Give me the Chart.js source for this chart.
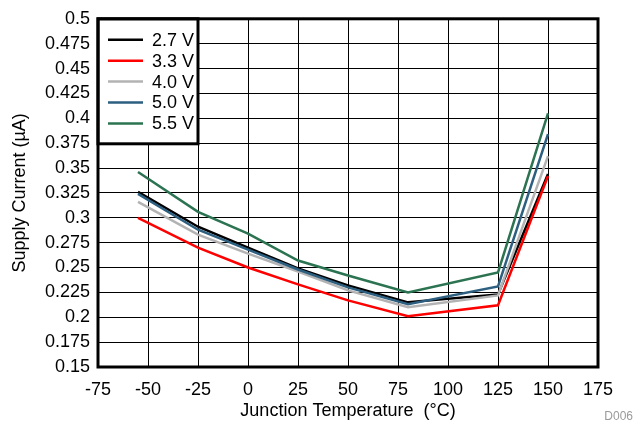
<!DOCTYPE html>
<html>
<head>
<meta charset="utf-8">
<script src="https://cdn.jsdelivr.net/npm/chart.js@4/dist/chart.umd.min.js"></script>
<style>
    html, body { margin: 0; padding: 0; background: #fff; }
    #wrap { width: 635px; height: 426px; }
</style>
</head>
<body>
<div id="wrap"><canvas id="chart" width="635" height="426"></canvas></div>
<script>
// junction temperature (°C)
const temps = [-55, -25, 0, 25, 50, 80, 125, 150];
// supply current (µA) per supply voltage
const v27 = [0.326, 0.291, 0.270, 0.249, 0.232, 0.215, 0.223, 0.344];
const v33 = [0.300, 0.270, 0.250, 0.233, 0.217, 0.201, 0.212, 0.342];
const v40 = [0.316, 0.283, 0.264, 0.246, 0.227, 0.210, 0.222, 0.362];
const v50 = [0.324, 0.288, 0.268, 0.248, 0.230, 0.213, 0.231, 0.384];
const v55 = [0.346, 0.306, 0.284, 0.257, 0.242, 0.225, 0.245, 0.405];
const seriesLabels = ["2.7 V", "3.3 V", "4.0 V", "5.0 V", "5.5 V"];
const seriesColors = ["#000000", "#ff0000", "#b3b3b3", "#2d5f80", "#2b7351"];
const seriesValues = [v27, v33, v40, v50, v55];

const FONT = "'Liberation Sans', Arial, sans-serif";

function toPoints(values) {
    return temps.map((t, i) => ({ x: t, y: values[i] }));
}

const datasets = seriesValues.map((vals, i) => ({
    label: seriesLabels[i],
    data: toPoints(vals),
    borderColor: seriesColors[i],
    backgroundColor: seriesColors[i],
    borderWidth: 2.5,
    pointRadius: 0,
    tension: 0,
    order: seriesValues.length - i // later series drawn on top, like the original
}));

// frame, inner legend and the small figure id
const extras = {
    id: "extras",
    afterDatasetsDraw(chart) {
        const ctx = chart.ctx;
        const a = chart.chartArea;
        ctx.save();

        // legend box in the top-left corner of the plot
        const bx = a.left, by = a.top, bw = 100, bh = 125;
        ctx.fillStyle = "#fff";
        ctx.fillRect(bx, by, bw, bh);
        ctx.strokeStyle = "#000";
        ctx.lineWidth = 3;
        ctx.strokeRect(bx, by, bw, bh);
        ctx.font = "18px " + FONT;
        ctx.textBaseline = "middle";
        ctx.textAlign = "left";
        seriesLabels.forEach((lab, i) => {
            const y = by + 21 + i * 20.9;
            ctx.strokeStyle = seriesColors[i];
            ctx.lineWidth = 2.5;
            ctx.beginPath();
            ctx.moveTo(bx + 10, y);
            ctx.lineTo(bx + 45, y);
            ctx.stroke();
            ctx.fillStyle = "#000";
            ctx.fillText(lab, bx + 54, y + 1);
        });

        // heavy frame round the plot area
        ctx.strokeStyle = "#000";
        ctx.lineWidth = 3;
        ctx.strokeRect(a.left, a.top, a.right - a.left, a.bottom - a.top);

        ctx.fillStyle = "#9a9a9a";
        ctx.font = "12px " + FONT;
        ctx.textAlign = "right";
        ctx.fillText("D006", 633, 417);
        ctx.restore();
    }
};

new Chart(document.getElementById("chart"), {
    type: "line",
    data: { datasets: datasets },
    options: {
        responsive: false,
        animation: false,
        devicePixelRatio: 1,
        layout: { padding: { left: 0, top: 15, right: 37, bottom: 0 } },
        plugins: {
            legend: { display: false },
            tooltip: { enabled: false }
        },
        scales: {
            x: {
                type: "linear",
                min: -75,
                max: 175,
                border: { display: false },
                grid: { color: "#000", lineWidth: 1, drawTicks: false },
                ticks: {
                    stepSize: 25,
                    padding: 12,
                    color: "#000",
                    font: { family: FONT, size: 18 },
                    maxRotation: 0
                },
                title: {
                    display: true,
                    text: "Junction Temperature  (°C)",
                    color: "#000",
                    font: { family: FONT, size: 18 },
                    padding: { top: 0, bottom: 4 }
                },
                afterFit(scale) { scale.height = 59; }
            },
            y: {
                min: 0.15,
                max: 0.5,
                border: { display: false },
                grid: { color: "#000", lineWidth: 1, drawTicks: false },
                ticks: {
                    stepSize: 0.025,
                    padding: 8,
                    color: "#000",
                    font: { family: FONT, size: 18 },
                    callback: v => parseFloat(v.toFixed(3)).toString()
                },
                title: {
                    display: true,
                    text: "Supply Current (µA)",
                    color: "#000",
                    font: { family: FONT, size: 18 },
                    padding: { top: 9, bottom: 0 }
                },
                afterFit(scale) { scale.width = 98; }
            }
        }
    },
    plugins: [extras]
});
</script>
</body>
</html>
